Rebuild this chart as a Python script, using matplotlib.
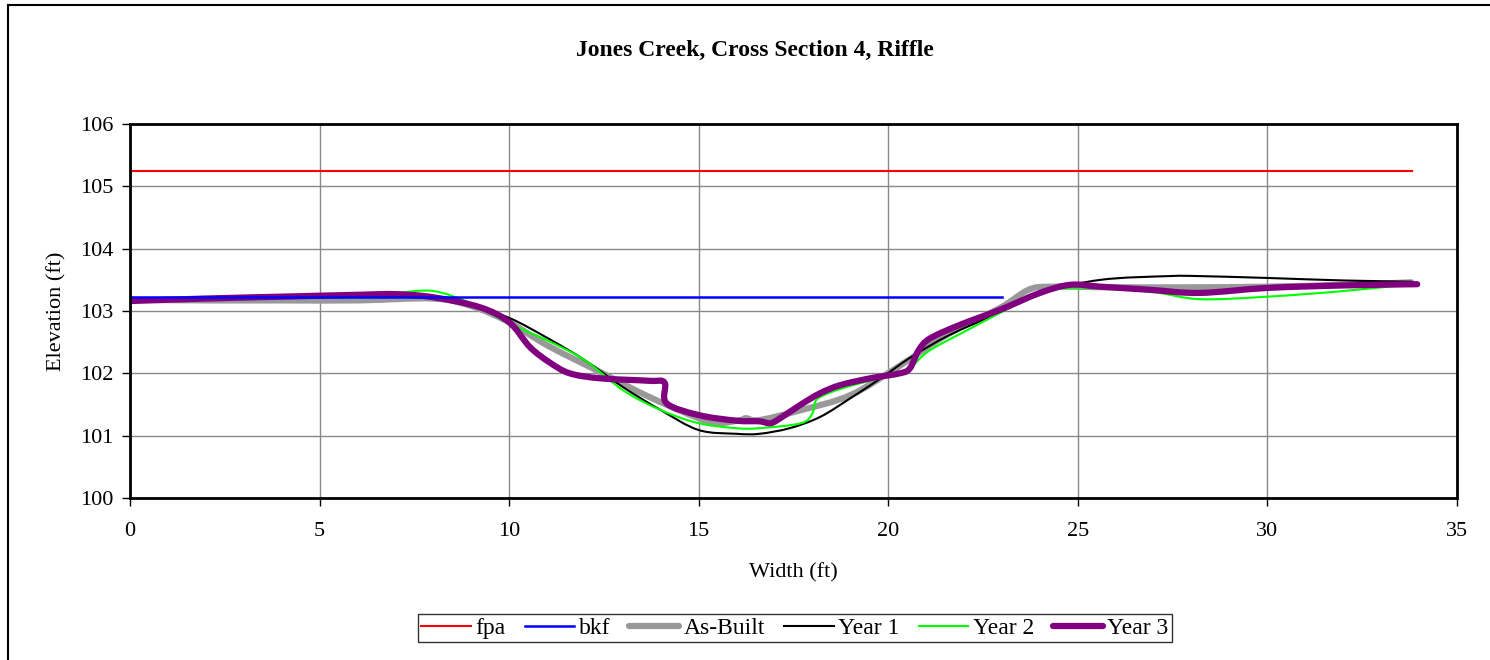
import matplotlib
matplotlib.use("Agg")
import matplotlib.pyplot as plt
from matplotlib.lines import Line2D
from matplotlib.path import Path
from matplotlib.patches import PathPatch

plt.rcParams['font.family'] = ['Liberation Serif', 'DejaVu Serif']

# reference lines
fpa_x = [0, 33.8]
fpa_y = [105.25, 105.25]
bkf_x = [0, 23.0]
bkf_y = [103.22, 103.22]

asbuilt_x = [0, 2, 4, 6, 8, 9, 10, 11, 12.4, 13.7, 15, 15.5, 16.1, 16.25, 16.6, 17.7, 19, 20.3, 21.6, 22.95, 23.7, 24.3, 26, 28, 30, 32, 33.8]
asbuilt_y = [103.18, 103.17, 103.17, 103.17, 103.2, 103.08, 102.82, 102.45, 102.02, 101.62, 101.28, 101.2, 101.25, 101.28, 101.25, 101.41, 101.65, 102.12, 102.64, 103.05, 103.34, 103.39, 103.38, 103.38, 103.39, 103.42, 103.46]

year1_x = [0, 2, 4, 6, 7, 8, 9, 10, 11, 12, 13, 14, 15, 16, 16.6, 17.4, 18.2, 19, 19.8, 20.6, 21.6, 22.95, 24, 25.6, 27.4, 28.2, 30, 32, 33.8]
year1_y = [103.17, 103.19, 103.22, 103.25, 103.26, 103.23, 103.09, 102.89, 102.57, 102.21, 101.78, 101.41, 101.09, 101.03, 101.03, 101.12, 101.3, 101.6, 101.92, 102.26, 102.61, 102.98, 103.29, 103.5, 103.56, 103.56, 103.53, 103.49, 103.47]

year2_x = [0, 2, 4, 6, 7, 8, 9, 10, 11, 12, 13, 14, 15, 16, 16.6, 17.7, 18.0, 18.1, 18.5, 19.25, 20.3, 20.6, 21.1, 22.2, 22.95, 24, 25.05, 26.9, 28.2, 30, 32, 33.8]
year2_y = [103.17, 103.19, 103.22, 103.26, 103.29, 103.32, 103.12, 102.8, 102.53, 102.21, 101.73, 101.41, 101.2, 101.12, 101.12, 101.2, 101.36, 101.57, 101.7, 101.84, 102.0, 102.1, 102.37, 102.73, 102.97, 103.29, 103.37, 103.31, 103.19, 103.23, 103.32, 103.43]

year3_x = [0, 2, 4, 6, 7, 8, 9.23, 10, 10.55, 11.08, 11.6, 12.4, 13.7, 14.1, 14.15, 15, 16.0, 16.6, 16.9, 17.2, 17.67, 18.2, 18.73, 19.52, 20.3, 20.57, 20.8, 21.1, 21.9, 22.95, 24, 24.8, 25.6, 26.9, 28.2, 30, 32, 33.95]
year3_y = [103.16, 103.2, 103.23, 103.26, 103.27, 103.22, 103.06, 102.82, 102.42, 102.17, 102.0, 101.92, 101.88, 101.85, 101.52, 101.33, 101.24, 101.23, 101.2, 101.3, 101.49, 101.68, 101.81, 101.92, 102.0, 102.08, 102.37, 102.56, 102.78, 103.02, 103.29, 103.42, 103.39, 103.34, 103.29, 103.37, 103.41, 103.43]


def smooth_line(ax, xs, ys, **kw):
    # Excel-style smoothed line: bezier segments through the points
    pts = list(zip(xs, ys))
    verts = [pts[0]]
    codes = [Path.MOVETO]
    n = len(pts)
    for i in range(n - 1):
        p0 = pts[max(i - 1, 0)]
        p1 = pts[i]
        p2 = pts[i + 1]
        p3 = pts[min(i + 2, n - 1)]
        c1 = (p1[0] + (p2[0] - p0[0]) / 6, p1[1] + (p2[1] - p0[1]) / 6)
        c2 = (p2[0] - (p3[0] - p1[0]) / 6, p2[1] - (p3[1] - p1[1]) / 6)
        verts += [c1, c2, p2]
        codes += [Path.CURVE4] * 3
    ax.add_patch(PathPatch(Path(verts, codes), fill=False, capstyle='round', joinstyle='round', **kw))


fig = plt.figure(figsize=(14.9, 6.6), dpi=100)
ax = fig.add_axes([130 / 1490, 1 - 498 / 660, (1457 - 130) / 1490, (498 - 124) / 660])

ax.plot(fpa_x, fpa_y, color='#ff0000', lw=1.5)
ax.plot(bkf_x, bkf_y, color='#0000ff', lw=1.8)
smooth_line(ax, asbuilt_x, asbuilt_y, edgecolor='#999999', lw=4.5)
smooth_line(ax, year1_x, year1_y, edgecolor='black', lw=1.5)
smooth_line(ax, year2_x, year2_y, edgecolor='#00ff00', lw=1.5)
smooth_line(ax, year3_x, year3_y, edgecolor='#800080', lw=4.5)

ax.set_xlim(0, 35)
ax.set_ylim(100, 106)
ax.set_xticks(range(0, 36, 5))
ax.set_yticks(range(100, 107))
ax.grid(True, color='#888888', lw=1)
ax.set_axisbelow(True)
for s in ax.spines.values():
    s.set_linewidth(2)
ax.tick_params(direction='out', length=6, labelsize=16, width=1)
ax.tick_params(axis='x', pad=11)
ax.tick_params(axis='y', pad=6)

ax.set_xlabel('Width (ft)', fontsize=16, labelpad=16)
ax.set_ylabel('Elevation (ft)', fontsize=16, labelpad=10)
fig.text(755 / 1490, 1 - 50 / 660, 'Jones Creek, Cross Section 4, Riffle',
         ha='center', va='center', fontsize=17, fontweight='bold')

handles = [
    Line2D([], [], color='#ff0000', lw=1.5),
    Line2D([], [], color='#0000ff', lw=1.8),
    Line2D([], [], color='#999999', lw=4.5, solid_capstyle='round'),
    Line2D([], [], color='black', lw=1.5),
    Line2D([], [], color='#00ff00', lw=1.5),
    Line2D([], [], color='#800080', lw=4.5, solid_capstyle='round'),
]
labels = ['fpa', 'bkf', 'As-Built', 'Year 1', 'Year 2', 'Year 3']
leg = ax.legend(handles, labels, loc='center', bbox_to_anchor=(795 / 1490, 1 - 628 / 660),
                bbox_transform=fig.transFigure, ncol=6, fontsize=17, frameon=True,
                fancybox=False, edgecolor='black', handlelength=2.1,
                handletextpad=0.2, columnspacing=0.8, borderpad=0.15)
leg.get_frame().set_linewidth(1)

# outer chart border (left and top visible)
fig.add_artist(Line2D([8 / 1490, 8 / 1490], [0, 1 - 5 / 660], color='black', lw=1.5, transform=fig.transFigure))
fig.add_artist(Line2D([8 / 1490, 1], [1 - 5 / 660, 1 - 5 / 660], color='black', lw=1.5, transform=fig.transFigure))

fig.savefig('out.png', dpi=100)
